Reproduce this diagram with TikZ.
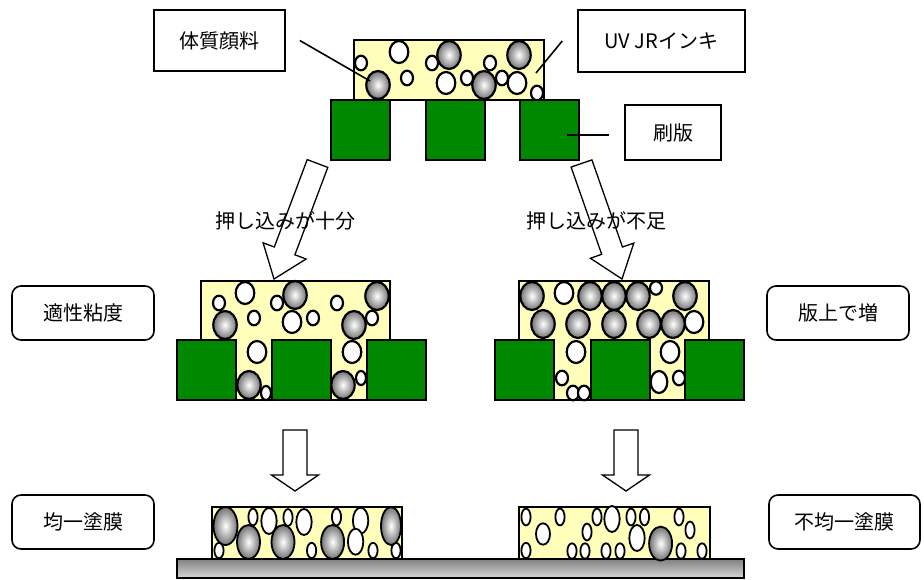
\documentclass[tikz,border=0pt]{standalone}
\usepackage{fontspec}
\setmainfont{Noto Sans CJK JP}

\definecolor{inkyellow}{RGB}{255,255,187}
\definecolor{plategreen}{RGB}{0,136,0}

\tikzset{
  ink/.style={draw, fill=inkyellow, line width=1.5pt},
  plate/.style={draw, fill=plategreen, line width=2pt},
  pig/.style={draw, line width=2.2pt, inner color=white, outer color=black!55},
  bub/.style={draw, fill=white, line width=2.2pt},
  tag/.style={draw, fill=white, line width=1.6pt, inner sep=0pt,
    font=\fontsize{20}{24}\selectfont},
  rtag/.style={tag, rounded corners=9pt},
  lead/.style={line width=1.6pt},
  hollow/.style={draw, fill=white, line width=1.3pt, line join=miter},
  say/.style={font=\fontsize{20}{24}\selectfont}
}

\begin{document}
\begin{tikzpicture}[x=1pt, y=-1pt]
  \useasboundingbox (0,0) rectangle (924,580);

  % ink on the plate
  \draw[ink] (354,40) rectangle (544,100);
  \foreach \x/\y in {399/52, 446/83, 517/83}
    \draw[bub] (\x,\y) ellipse [x radius=9.3, y radius=11];
  \foreach \x/\y in {361/63, 407/78, 432/63, 467/78, 490/63, 502/78, 537/93}
    \draw[bub] (\x,\y) ellipse [x radius=6, y radius=7.3];
  \foreach \x/\y in {449/55, 519/55, 378/85, 484/85}
    \draw[pig] (\x,\y) ellipse [x radius=11.7, y radius=14];
  \foreach \x in {331, 426, 520}
    \draw[plate] (\x,100) rectangle ++(59,60);

  \node[tag, minimum width=131pt, minimum height=61pt] (lblPigment) at (219.5,40.5) {体質顔料};
  \node[tag, minimum width=167pt, minimum height=62pt] (lblInk) at (661.5,41) {UV JRインキ};
  \node[tag, minimum width=96pt, minimum height=55pt] (lblPlate) at (673,132.5) {刷版};
  \coordinate (pigTip) at (370,81);
  \coordinate (inkTip) at (536,73);
  \coordinate (plateTip) at (566.5,135);
  \draw[lead] (lblPigment.east) ++(14,0) -- (pigTip);
  \draw[lead] (lblInk.west) ++(-15,0) -- (inkTip);
  \draw[lead] (lblPlate.west) ++(-15,2.5) -- (plateTip);

  % pressing in
  \draw[hollow] (307.2,159.6) -- (327.8,167.4) -- (294.9,254.8) -- (306.1,259.0)
    -- (274,279) -- (263.1,242.8) -- (274.3,247.0) -- cycle;
  \draw[hollow] (571.1,167.1) -- (591.9,159.9) -- (622.5,247.0) -- (633.8,243.1)
    -- (622,279) -- (590.4,258.3) -- (601.7,254.3) -- cycle;
  \node[say] (sayL) at (285,221) {押し込みが十分};
  \node[say] (sayR) at (596,221) {押し込みが不足};

  % left: ink goes into the cells
  \draw[ink] (201,281) rectangle (390,400);
  \foreach \x/\y in {245/293, 292/322, 257/352, 352/352}
    \draw[bub] (\x,\y) ellipse [x radius=9.3, y radius=11];
  \foreach \x/\y in {219/303, 277/303, 337/303, 254/318, 313/318, 372/318}
    \draw[bub] (\x,\y) ellipse [x radius=6, y radius=7.3];
  \foreach \x/\y in {266/393, 361/378}
    \draw[bub] (\x,\y) ellipse [x radius=5, y radius=7];
  \foreach \x/\y in {295/295, 377/296, 225/325, 354/325, 249/385, 343/385}
    \draw[pig] (\x,\y) ellipse [x radius=11.7, y radius=14];
  \foreach \x in {177, 272, 367}
    \draw[plate] (\x,340) rectangle ++(59,60);

  % right: pigment stays on top
  \draw[ink] (519,281) rectangle (709,400);
  \foreach \x/\y in {564/293, 694/322, 576/352, 670/352}
    \draw[bub] (\x,\y) ellipse [x radius=9.3, y radius=11];
  \draw[bub] (659,382) ellipse [x radius=8.3, y radius=11];
  \draw[bub] (656,288) ellipse [x radius=6, y radius=6.7];
  \foreach \x/\y in {562/378, 573/393, 584/393, 679/378}
    \draw[bub] (\x,\y) ellipse [x radius=6, y radius=7.3];
  \foreach \x/\y in {532/296, 590/296, 614/296, 638/296, 685/296,
                     543/324, 578/324, 614/324, 649/324, 673/324}
    \draw[pig] (\x,\y) ellipse [x radius=11.7, y radius=14];
  \foreach \x in {495, 591, 685}
    \draw[plate] (\x,340) rectangle ++(59,60);

  \node[rtag, minimum width=142pt, minimum height=54pt] (lblGood) at (83,313) {適性粘度};
  \node[rtag, minimum width=142pt, minimum height=54pt] (lblThick) at (838,313) {版上で増};

  % down to the film
  \draw[hollow] (283,430) -- (307,430) -- (307,475) -- (318.5,475) -- (295,491)
    -- (271.5,475) -- (283,475) -- cycle;
  \draw[hollow] (614,430) -- (638,430) -- (638,475) -- (649.5,475) -- (626,491)
    -- (602.5,475) -- (614,475) -- cycle;

  % films on the substrate
  \draw[line width=1.6pt, top color=black!50, bottom color=black!15] (177,559) rectangle (744,578);
  \draw[ink] (212,507) rectangle (402,559);
  \foreach \x/\y/\a/\b in {219/550.5/4.6/7.7, 253/517/4.6/8.4, 269/521/7.7/13, 288/517.5/4.6/8.4,
      304/522/7.7/13, 311.6/550.5/4.6/7.7, 336.5/517/4.6/8.4, 360.6/520.6/7.7/13,
      355.6/541.7/7.7/13, 373/550.5/4.6/7.7, 396/550.5/4.6/7.7}
    \draw[bub, line width=1.8pt] (\x,\y) ellipse [x radius=\a, y radius=\b];
  \foreach \x/\y/\a/\b in {225.5/526/12/19, 248.5/542/11.5/17, 283/542/11.5/17,
      332.6/542/11.5/17, 391/526/10/19}
    \draw[pig, line width=1.8pt] (\x,\y) ellipse [x radius=\a, y radius=\b];

  \draw[ink] (519,507) rectangle (710,559);
  \foreach \x/\y/\a/\b in {526/517/4.6/8.4, 526/550.5/4.6/7.7, 543/534/7/10.7, 560/517/4.6/8.4,
      572/551/4.6/7.7, 585/551/4.6/7.7, 587/532/4.6/8.4, 597/517/4.6/8.4, 612/519/7.7/13,
      606/551/4.6/7.7, 620/551/4.6/7.7, 631/517/4.6/8.4, 644.5/517/4.6/8.4, 637/538/7.7/13,
      679/517/4.6/8.4, 681/551/4.6/7.7, 690/530/4.6/8.4, 702/551/4.6/7.7}
    \draw[bub, line width=1.8pt] (\x,\y) ellipse [x radius=\a, y radius=\b];
  \draw[pig, line width=1.8pt] (660.6,543.6) ellipse [x radius=11.5, y radius=17];

  \node[rtag, minimum width=142pt, minimum height=54pt] (lblEven) at (83,522) {均一塗膜};
  \node[rtag, minimum width=151pt, minimum height=54pt] (lblUneven) at (844.5,522) {不均一塗膜};
\end{tikzpicture}
\end{document}
